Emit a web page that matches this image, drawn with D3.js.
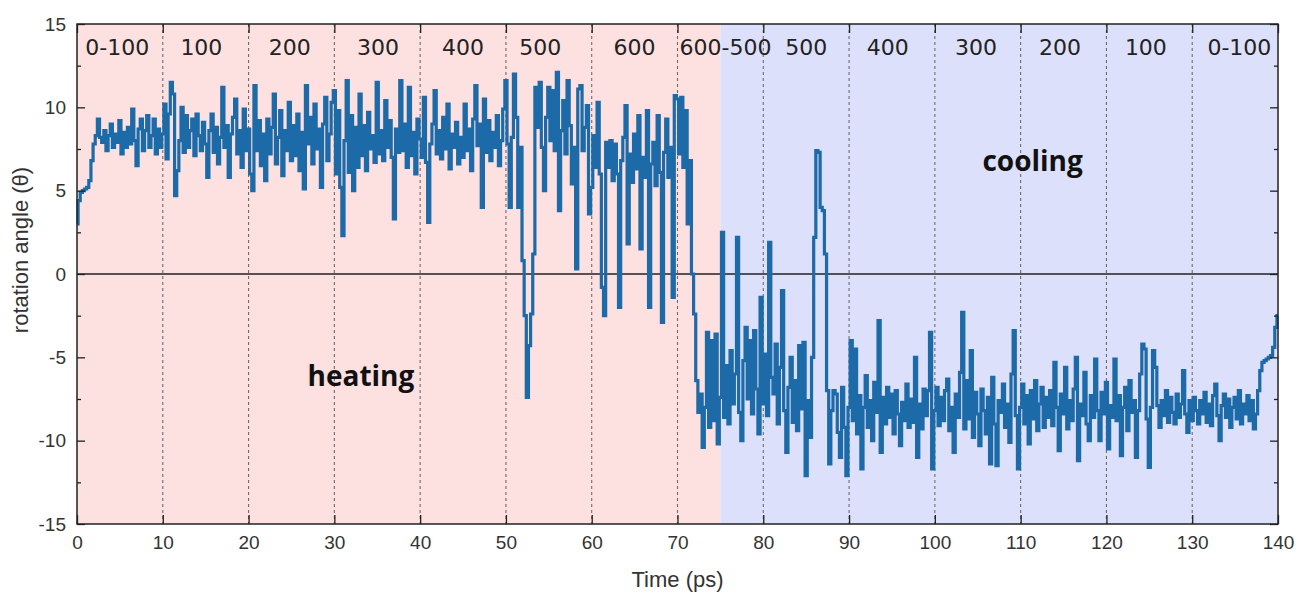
<!DOCTYPE html>
<html>
<head>
<meta charset="utf-8">
<script src="https://cdn.jsdelivr.net/npm/d3@7"></script>
<style>
body { margin: 0; background: #fff; }
</style>
</head>
<body>
<svg id="chart" width="1298" height="593"></svg>
<script>
// sample interval of the trace (ps)
var dt = 0.25;

// rotation angle, one array per 10 ps
var seg0 = [3.0, 4.4, 4.9, 5.0, 5.1, 5.2, 5.6, 6.8, 7.8, 8.3, 9.3, 8.2, 7.9, 8.6, 7.4, 8.3, 9.0, 7.6, 8.4, 7.9,
    9.2, 7.2, 8.5, 7.6, 8.8, 7.8, 9.9, 8.0, 6.5, 8.7, 9.3, 7.4, 8.6, 9.5, 7.6, 8.3, 9.3, 7.2, 8.7, 7.6];
var seg10 = [8.4, 10.2, 6.9, 9.6, 11.5, 10.8, 4.7, 6.2, 8.0, 10.0, 7.3, 9.5, 7.6, 8.6, 9.3, 7.1, 9.6, 8.3, 7.4, 9.1,
    7.8, 5.8, 8.6, 9.6, 7.3, 8.8, 6.6, 8.2, 11.2, 7.6, 8.9, 5.8, 8.4, 9.4, 10.5, 7.2, 8.6, 6.4, 9.9, 7.4];
var seg20 = [8.7, 6.0, 5.0, 11.3, 7.4, 9.2, 6.5, 8.4, 5.6, 9.3, 7.2, 8.8, 10.8, 6.6, 8.2, 9.8, 5.9, 8.6, 7.4, 10.3,
    6.8, 8.9, 7.1, 9.6, 6.2, 8.5, 5.1, 11.3, 7.8, 9.4, 6.6, 10.2, 7.5, 8.7, 5.2, 9.0, 10.6, 6.8, 8.4, 10.3];
var seg30 = [11.0, 6.0, 9.8, 5.2, 2.3, 8.0, 11.6, 6.1, 9.5, 5.0, 8.8, 6.4, 10.8, 7.1, 8.9, 6.2, 9.7, 7.5, 8.3, 6.7,
    11.5, 7.2, 8.6, 6.8, 10.4, 7.6, 9.2, 7.0, 3.3, 8.7, 7.3, 11.6, 7.4, 9.0, 6.4, 11.2, 7.1, 8.5, 6.0, 9.3];
var seg40 = [8.1, 7.0, 10.6, 6.7, 3.1, 7.8, 9.0, 11.0, 7.2, 8.6, 6.9, 9.4, 7.5, 10.2, 6.3, 8.4, 7.6, 9.1, 6.6, 8.2,
    7.0, 10.2, 7.4, 8.7, 6.2, 9.3, 11.3, 7.7, 9.0, 4.0, 10.5, 7.3, 9.2, 6.8, 8.5, 7.6, 9.5, 6.5, 8.0, 9.9];
var seg50 = [11.6, 7.8, 4.0, 8.2, 12.0, 9.4, 4.0, 7.6, 0.8, -2.5, -7.4, -4.3, -2.4, 1.2, 11.2, 8.8, 11.5, 7.6, 5.0, 9.4,
    11.2, 8.0, 11.0, 7.4, 12.1, 3.8, 8.6, 10.4, 7.2, 11.6, 8.9, 5.4, 7.6, 0.3, 11.1, 11.3, 7.4, 8.8, 10.1, 3.6];
var seg60 = [5.2, 8.3, 6.4, 10.3, 6.0, -0.8, -2.5, 7.9, 6.4, 8.0, 5.6, 7.8, 6.0, -2.0, 6.8, 8.2, 10.1, 1.8, 7.2, 5.5,
    8.4, 6.3, 9.5, 1.5, 7.0, 5.8, 9.8, -2.0, 6.6, 7.9, 5.3, 9.5, 6.1, -2.9, 7.3, 9.3, 5.8, 7.6, -1.4, 10.7];
var seg70 = [10.5, 7.2, 10.6, 6.4, 9.8, 3.0, 6.8, 0.0, -2.4, -6.4, -8.3, -7.2, -10.4, -8.0, -3.5, -9.2, -4.0, -8.8, -3.6, -10.2,
    -7.4, 2.5, -8.6, -5.5, -9.0, -4.6, -7.8, -6.0, 2.2, -8.3, -10.0, -5.2, -3.2, -7.5, -4.0, -8.4, -3.4, -6.9, -9.6, -1.4];
var seg80 = [-7.8, -4.8, -8.5, 1.9, -6.2, -7.2, -4.2, -9.0, -5.6, -1.0, -8.2, -10.7, -6.8, -5.0, -8.9, -6.4, -9.4, -4.3, -8.1, -4.1,
    -12.1, -7.6, -9.8, -5.0, 2.2, 7.4, 7.3, 4.0, 3.8, 1.2, -7.0, -11.4, -8.2, -7.0, -7.2, -9.5, -11.0, -6.8, -9.2, -12.1];
var seg90 = [-8.0, -4.0, -8.8, -4.5, -9.6, -7.3, -11.7, -8.0, -6.1, -9.2, -7.6, -10.0, -6.5, -8.3, -2.8, -10.7, -7.4, -9.0, -6.8, -8.6,
    -7.2, -9.6, -7.0, -8.4, -10.3, -7.7, -8.8, -6.6, -9.2, -7.5, -8.9, -5.0, -11.0, -7.8, -9.3, -6.9, -8.5, -7.0, -3.5, -11.7];
var seg100 = [-8.2, -6.8, -9.1, -7.4, -8.8, -7.0, -6.3, -9.4, -8.0, -10.7, -7.2, -8.6, -5.9, -2.3, -9.3, -6.4, -8.7, -4.6, -9.8, -7.1,
    -8.4, -10.3, -6.9, -8.2, -9.6, -7.4, -11.4, -6.2, -9.0, -11.5, -7.6, -8.3, -6.6, -9.2, -7.8, -10.1, -6.0, -3.4, -8.5, -11.7];
var seg110 = [-8.0, -6.6, -9.0, -7.3, -10.2, -7.0, -8.7, -6.4, -9.4, -7.8, -6.8, -9.2, -7.4, -8.6, -7.0, -9.1, -5.3, -8.0, -10.6, -7.2,
    -8.4, -5.6, -9.3, -7.6, -8.8, -6.9, -5.0, -11.2, -7.8, -8.5, -5.9, -9.0, -10.0, -7.3, -8.6, -5.1, -8.2, -10.0, -7.1, -8.4];
var seg120 = [-6.5, -10.5, -7.9, -8.6, -5.1, -8.8, -7.3, -10.9, -8.0, -6.8, -9.4, -6.4, -8.3, -7.6, -11.0, -8.2, -6.0, -4.2, -4.5, -8.7,
    -11.6, -8.0, -4.6, -5.6, -7.9, -9.2, -7.6, -8.5, -7.0, -8.9, -7.4, -8.3, -9.0, -7.2, -8.6, -7.8, -5.8, -8.4, -9.5, -7.6];
var seg130 = [-8.8, -7.4, -8.2, -9.0, -7.6, -8.4, -7.1, -8.9, -7.8, -9.1, -7.3, -6.6, -8.5, -10.0, -7.9, -7.2, -8.6, -7.5, -9.2, -8.0,
    -7.4, -8.7, -7.0, -9.0, -7.8, -8.4, -7.3, -8.8, -7.6, -9.3, -8.4, -7.0, -5.8, -5.3, -5.2, -5.1, -5.0, -4.9, -4.4, -3.2, -2.5];

var angle = [].concat(seg0, seg10, seg20, seg30, seg40, seg50, seg60, seg70,
    seg80, seg90, seg100, seg110, seg120, seg130);

var xTicks = [0, 10, 20, 30, 40, 50, 60, 70, 80, 90, 100, 110, 120, 130, 140];
var yTicks = [-15, -10, -5, 0, 5, 10, 15];
var yMinor = [-12.5, -7.5, -2.5, 2.5, 7.5, 12.5];
var gridAt = [10, 20, 30, 40, 50, 60, 70, 80, 90, 100, 110, 120, 130];

var phaseNames = ["heating", "cooling"];
var phaseFrom = [0, 75];
var phaseTo = [75, 140];
var phaseLabelT = [33.1, 111.4];
var phaseLabelV = [-6.7, 6.2];

var tempLabels = ["0-100", "100", "200", "300", "400", "500", "600", "600-500", "500", "400", "300", "200", "100", "0-100"];
var tempLabelT = [4.7, 14.5, 24.8, 35.1, 45, 54, 65, 75.6, 85, 94.5, 104.8, 114.6, 124.6, 135.5];

var margin = { left: 77, right: 20, top: 24, bottom: 69 };
var width = 1298 - margin.left - margin.right;
var height = 593 - margin.top - margin.bottom;

var xScale = d3.scaleLinear().domain([0, 140]).range([0, width]);
var yScale = d3.scaleLinear().domain([-15, 15]).range([height, 0]);

var svg = d3.select("#chart");
var g = svg.append("g").attr("transform", "translate(" + margin.left + "," + margin.top + ")");

// heating / cooling backgrounds
g.selectAll(".phase")
    .data(phaseNames)
    .enter().append("rect")
    .attr("x", function (d, i) { return xScale(phaseFrom[i]); })
    .attr("width", function (d, i) { return xScale(phaseTo[i]) - xScale(phaseFrom[i]); })
    .attr("y", 0)
    .attr("height", height)
    .attr("fill", function (d, i) { return i === 0 ? "#fde0e0" : "#dde0fa"; });

// dotted separators
g.selectAll(".grid")
    .data(gridAt)
    .enter().append("line")
    .attr("x1", function (d) { return xScale(d); })
    .attr("x2", function (d) { return xScale(d); })
    .attr("y1", 0)
    .attr("y2", height)
    .attr("stroke", "#6e6a70")
    .attr("stroke-width", 1.1)
    .attr("stroke-dasharray", "3,3");

// zero line
g.append("line")
    .attr("x1", 0).attr("x2", width)
    .attr("y1", yScale(0)).attr("y2", yScale(0))
    .attr("stroke", "#222").attr("stroke-width", 1.3);

var line = d3.line()
    .curve(d3.curveStep)
    .x(function (d, i) { return xScale(i * dt); })
    .y(function (d) { return yScale(d); });

g.append("path")
    .attr("d", line(angle))
    .attr("fill", "none")
    .attr("stroke", "#1c6aa8")
    .attr("stroke-width", 3.2);

// temperature labels along the top
g.selectAll(".temp")
    .data(tempLabels)
    .enter().append("text")
    .attr("x", function (d, i) { return xScale(tempLabelT[i]); })
    .attr("y", 31)
    .attr("text-anchor", "middle")
    .style("font-family", "'DejaVu Sans', Verdana, sans-serif")
    .style("font-size", "22px")
    .attr("fill", "#222")
    .text(function (d) { return d; });

g.selectAll(".phaseLabel")
    .data(phaseNames)
    .enter().append("text")
    .attr("x", function (d, i) { return xScale(phaseLabelT[i]); })
    .attr("y", function (d, i) { return yScale(phaseLabelV[i]); })
    .attr("text-anchor", "middle")
    .style("font-family", "'Open Sans', 'Noto Sans', sans-serif")
    .style("font-weight", "bold")
    .style("font-size", "28px")
    .attr("fill", "#111")
    .text(function (d) { return d; });

// axes
function plain(d) { return String(d); }

function styleAxis(sel) {
    sel.select(".domain").remove();
    sel.selectAll("line").attr("stroke", "#222").attr("stroke-width", 1.3);
    sel.selectAll("text")
        .style("font-family", "'Liberation Sans', Arial, sans-serif")
        .style("font-size", "19px")
        .attr("fill", "#333");
}

g.append("g")
    .call(d3.axisLeft(yScale).tickValues(yTicks).tickSize(-8).tickPadding(11).tickFormat(plain))
    .call(styleAxis);
g.append("g")
    .call(d3.axisLeft(yScale).tickValues(yMinor).tickSize(-4).tickFormat(""))
    .call(styleAxis);
g.append("g")
    .attr("transform", "translate(" + width + ",0)")
    .call(d3.axisRight(yScale).tickValues(yTicks).tickSize(-8).tickFormat(""))
    .call(styleAxis);
g.append("g")
    .attr("transform", "translate(" + width + ",0)")
    .call(d3.axisRight(yScale).tickValues(yMinor).tickSize(-4).tickFormat(""))
    .call(styleAxis);
g.append("g")
    .attr("transform", "translate(0," + height + ")")
    .call(d3.axisBottom(xScale).tickValues(xTicks).tickSize(-9).tickPadding(12).tickFormat(plain))
    .call(styleAxis);
g.append("g")
    .call(d3.axisTop(xScale).tickValues(xTicks).tickSize(-9).tickFormat(""))
    .call(styleAxis);

g.append("rect")
    .attr("width", width)
    .attr("height", height)
    .attr("fill", "none")
    .attr("stroke", "#222")
    .attr("stroke-width", 1.5);

g.append("text")
    .attr("x", width / 2)
    .attr("y", height + 63)
    .attr("text-anchor", "middle")
    .style("font-family", "'Liberation Sans', Arial, sans-serif")
    .style("font-size", "22px")
    .attr("fill", "#333")
    .text("Time (ps)");

g.append("text")
    .attr("transform", "translate(-49," + (height / 2 - 24) + ") rotate(-90)")
    .attr("text-anchor", "middle")
    .style("font-family", "'Liberation Sans', Arial, sans-serif")
    .style("font-size", "22px")
    .attr("fill", "#333")
    .text("rotation angle (\u03b8)");
</script>
</body>
</html>
